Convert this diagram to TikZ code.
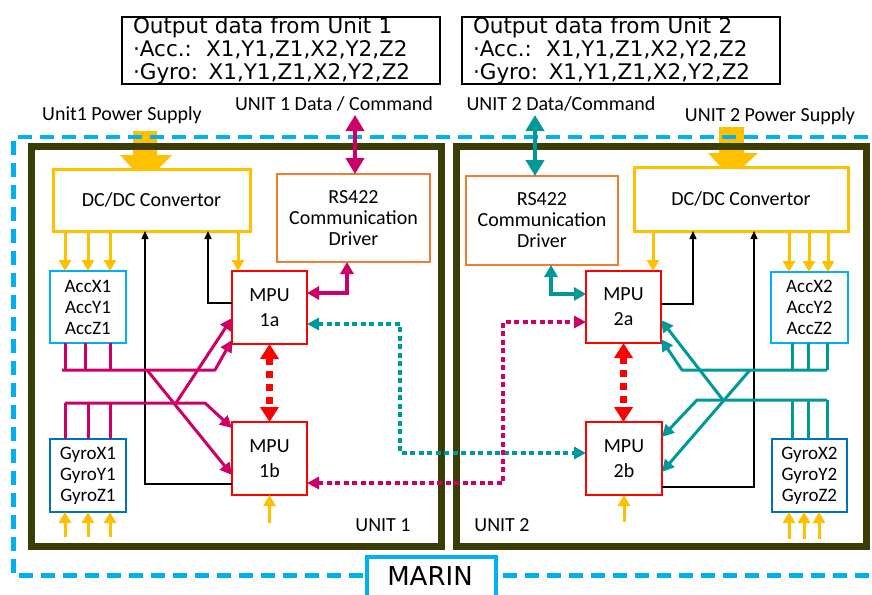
\documentclass[tikz,border=0pt]{standalone}
\usepackage{fontspec}
\setmainfont{Carlito}
\newfontfamily\widefont{DejaVu Sans}
\usetikzlibrary{arrows.meta,calc}
\definecolor{cyanb}{RGB}{0,176,240}
\definecolor{olive}{RGB}{58,62,5}
\definecolor{gold}{RGB}{255,192,0}
\definecolor{orng}{RGB}{237,125,49}
\definecolor{mag}{RGB}{204,0,102}
\definecolor{teal2}{RGB}{0,153,153}
\definecolor{gyrob}{RGB}{0,112,192}
\tikzset{
  box/.style={draw, fill=white, inner sep=0pt, outer sep=0pt, align=center, font=\fontsize{20}{22}\selectfont},
  dcbox/.style={box, draw=gold, line width=3pt},
  rsbox/.style={box, draw=orng, line width=2.5pt, font=\fontsize{20}{21}\selectfont},
  mpubox/.style={box, draw=red, line width=2.5pt, font=\fontsize{20}{25}\selectfont},
  accbox/.style={box, draw=cyanb, line width=2.2pt, font=\fontsize{19}{21}\selectfont},
  gyrobox/.style={box, draw=gyrob, line width=2.2pt, font=\fontsize{19}{21}\selectfont},
  outbox/.style={draw, line width=1.3pt, inner xsep=11pt, inner ysep=0pt, text width=296pt, align=left, font=\widefont\fontsize{21.5}{23}\selectfont},
  unitbox/.style={draw=olive, line width=7pt},
  lbl/.style={inner sep=0pt, font=\fontsize{20}{22}\selectfont},
  pw/.style={draw=gold, line width=3pt, -{Triangle[length=11pt,width=12pt]}},
  sig1/.style={draw=mag, line width=3pt, line join=round, -{Triangle[length=12pt,width=12pt]}},
  sig2/.style={draw=teal2, line width=3pt, line join=round, -{Triangle[length=12pt,width=12pt]}},
  bus1/.style={draw=mag, line width=3pt},
  bus2/.style={draw=teal2, line width=3pt},
  blk/.style={draw=black, line width=1.4pt, -{Triangle[length=8pt,width=7pt]}},
  big/.style={line width=4pt, {Triangle[length=16pt,width=18pt]}-{Triangle[length=16pt,width=18pt]}},
  rsl/.style={line width=3.5pt, {Triangle[length=12pt,width=13pt]}-{Triangle[length=12pt,width=13pt]}},
  reddot/.style={draw=red, line width=7pt, dash pattern=on 7pt off 6pt, {Triangle[length=15pt,width=18pt]}-{Triangle[length=15pt,width=18pt]}},
  xdot/.style={line width=3.5pt, dash pattern=on 5pt off 3.5pt, {Triangle[length=12pt,width=12pt]}-{Triangle[length=12pt,width=12pt]}},
}
\begin{document}
\begin{tikzpicture}[x=1pt,y=-1pt]
\useasboundingbox (0,0) rectangle (872,594);
\clip (0,0) rectangle (872,594);
\fill[white] (0,0) rectangle (872,594);

% power block arrows (under the dashed border)
\fill[gold] (133,131) -- (157,131) -- (157,155) -- (172,155) -- (145,182) -- (120,155) -- (133,155) -- cycle;
\fill[gold] (719,127) -- (744,127) -- (744,153) -- (758,153) -- (731,178) -- (708,153) -- (719,153) -- cycle;

% MARIN dashed border
\draw[cyanb, line width=4.5pt, dash pattern=on 14pt off 8pt] (890,137) -- (13.5,137) -- (13.5,575.5) -- (890,575.5);

% output boxes
\node[outbox] (out1) at (281,50.5) {Output data from Unit 1\\ \textperiodcentered Acc.:\ \ X1,Y1,Z1,X2,Y2,Z2\\ \textperiodcentered Gyro: X1,Y1,Z1,X2,Y2,Z2};
\node[outbox] (out2) at (621,50.5) {Output data from Unit 2\\ \textperiodcentered Acc.:\ \ X1,Y1,Z1,X2,Y2,Z2\\ \textperiodcentered Gyro: X1,Y1,Z1,X2,Y2,Z2};

% labels
\node[lbl] (ps1) at (122,115) {Unit1 Power Supply};
\node[lbl] (dcmd1) at (334,104) {UNIT 1 Data / Command};
\node[lbl] (dcmd2) at (561,104) {UNIT 2 Data/Command};
\node[lbl] (ps2) at (770,116) {UNIT 2 Power Supply};

% unit frames
\draw[unitbox] (31.5,146.5) rectangle (441.5,546);
\draw[unitbox] (456.5,146.5) rectangle (866.5,546);
\node[lbl] (u1) at (383,525) {UNIT 1};
\node[lbl] (u2) at (502,525) {UNIT 2};

% boxes unit 1
\node[dcbox, minimum width=197pt, minimum height=62pt] (dc1) at (151.5,200) {DC/DC Convertor};
\node[rsbox, minimum width=153pt, minimum height=88pt] (rs1) at (353.5,218) {RS422\\Communication\\Driver};
\node[mpubox, minimum width=75pt, minimum height=73pt] (mpu1a) at (269.5,307.5) {MPU\\1a};
\node[mpubox, minimum width=75pt, minimum height=73pt] (mpu1b) at (269.5,458.5) {MPU\\1b};
\node[accbox, minimum width=76pt, minimum height=72pt] (acc1) at (88,307) {AccX1\\AccY1\\AccZ1};
\node[gyrobox, minimum width=76pt, minimum height=73pt] (gyro1) at (88,475.5) {GyroX1\\GyroY1\\GyroZ1};

% boxes unit 2
\node[dcbox, minimum width=214pt, minimum height=64pt] (dc2) at (741,199) {DC/DC Convertor};
\node[rsbox, minimum width=152pt, minimum height=89pt] (rs2) at (542,220.5) {RS422\\Communication\\Driver};
\node[mpubox, minimum width=75pt, minimum height=72pt] (mpu2a) at (623.5,307) {MPU\\2a};
\node[mpubox, minimum width=76pt, minimum height=73pt] (mpu2b) at (624,458.5) {MPU\\2b};
\node[accbox, minimum width=77pt, minimum height=71pt] (acc2) at (809.5,307.5) {AccX2\\AccY2\\AccZ2};
\node[gyrobox, minimum width=75pt, minimum height=73pt] (gyro2) at (809.5,475.5) {GyroX2\\GyroY2\\GyroZ2};

% power distribution
\foreach \dx in {12,35,57} \draw[pw] ($(dc1.south west)+(\dx,0)$) -- ($(acc1.north west)+(\dx+3,0)$);
\draw[pw] ($(dc1.south west)+(185,0)$) -- ($(mpu1a.north west)+(6,0)$);
\foreach \dx in {155,175,194} \draw[pw] ($(dc2.south west)+(\dx,0)$) -- ($(acc2.north west)+(\dx-137,0)$);
\draw[pw] ($(dc2.south west)+(19,0)$) -- ($(mpu2a.north west)+(67,0)$);
\foreach \dx in {15,38,60} \draw[pw] ($(gyro1.south west)+(\dx,25)$) -- ($(gyro1.south west)+(\dx,0)$);
\foreach \dx in {17,32,47} \draw[pw] ($(gyro2.south west)+(\dx,27)$) -- ($(gyro2.south west)+(\dx,0)$);
\draw[pw] ($(mpu1b.south)+(0,28)$) -- (mpu1b.south);
\draw[pw] ($(mpu2b.south)+(0,27)$) -- (mpu2b.south);

% black return lines
\draw[blk] ($(mpu1b.south west)+(0,-11)$) -| ($(dc1.south west)+(92,0)$);
\draw[blk] ($(mpu1a.north west)+(0,32)$) -| ($(dc1.south west)+(155,0)$);
\draw[blk] ($(mpu2a.north east)+(0,33)$) -| ($(dc2.south west)+(59,0)$);
\draw[blk] ($(mpu2b.south east)+(0,-8)$) -| ($(dc2.south west)+(120,0)$);

% data / command
\coordinate (dtop1) at (355,115);
\coordinate (dtop2) at (535,115);
\draw[big, mag] (dtop1) -- ($(rs1.north)+(1.5,0)$);
\draw[big, teal2] (dtop2) -- ($(rs2.north)+(-7,0)$);
\draw[rsl, mag] ($(rs1.south west)+(70,0)$) |- ($(mpu1a.north east)+(0,22)$);
\draw[rsl, teal2] ($(rs2.south west)+(85,0)$) |- ($(mpu2a.north west)+(0,23)$);

% MPU cross links
\draw[reddot] (mpu1a.south) -- (mpu1b.north);
\draw[reddot] (mpu2a.south) -- (mpu2a.south |- mpu2b.north);
\coordinate (tc) at (400,390);
\coordinate (mc) at (503,400);
\draw[xdot, teal2] ($(mpu1a.north east)+(0,53)$) -| (tc) |- ($(mpu2b.north west)+(0,31)$);
\draw[xdot, mag] ($(mpu1b.north east)+(0,61)$) -| (mc) |- ($(mpu2a.north west)+(0,51)$);

% sensor buses unit 1
\foreach \dx in {15,35,60} \draw[bus1] ($(acc1.south west)+(\dx,0)$) -- ($(acc1.south west)+(\dx,27)$);
\foreach \dx in {15,38,60} \draw[bus1] ($(gyro1.north west)+(\dx,0)$) -- ($(gyro1.north west)+(\dx,-36)$);
\coordinate (A1L) at (62,370);
\coordinate (A1R) at (215,370);
\coordinate (A1X) at (147,370);
\coordinate (G1L) at (65,403);
\coordinate (G1R) at (205,403);
\coordinate (G1X) at (176,403);
\draw[sig1] (A1L) -- (A1R) -- ($(mpu1a.south west)+(0,-4)$);
\draw[sig1] (A1X) -- ($(mpu1b.south west)+(0,-20)$);
\draw[sig1] (G1L) -- (G1R) -- ($(mpu1b.north west)+(0,6)$);
\draw[sig1] (G1X) -- ($(mpu1a.north west)+(0,47)$);

% sensor buses unit 2
\foreach \dx in {21,37,56} \draw[bus2] ($(acc2.south west)+(\dx,0)$) -- ($(acc2.south west)+(\dx,27)$);
\foreach \dx in {20,36,55} \draw[bus2] ($(gyro2.north west)+(\dx,0)$) -- ($(gyro2.north west)+(\dx,-39)$);
\coordinate (A2R) at (827,370);
\coordinate (A2L) at (682,370);
\coordinate (A2X) at (750,370);
\coordinate (G2R) at (827,400);
\coordinate (G2L) at (697,400);
\coordinate (G2X) at (723,400);
\draw[sig2] (A2R) -- (A2L) -- ($(mpu2a.south east)+(0,-4)$);
\draw[sig2] (A2X) -- ($(mpu2b.south east)+(0,-23)$);
\draw[sig2] (G2R) -- (G2L) -- ($(mpu2b.north east)+(0,15)$);
\draw[sig2] (G2X) -- ($(mpu2a.north east)+(0,49)$);

% MARIN label
\node[draw=cyanb, fill=white, line width=4pt, minimum width=129pt, minimum height=44pt, inner sep=0pt] (marinbox) at (431.5,579) {};
\node[inner sep=0pt, font=\widefont\fontsize{26}{26}\selectfont] (marin) at (430,576) {MARIN};
\end{tikzpicture}
\end{document}
